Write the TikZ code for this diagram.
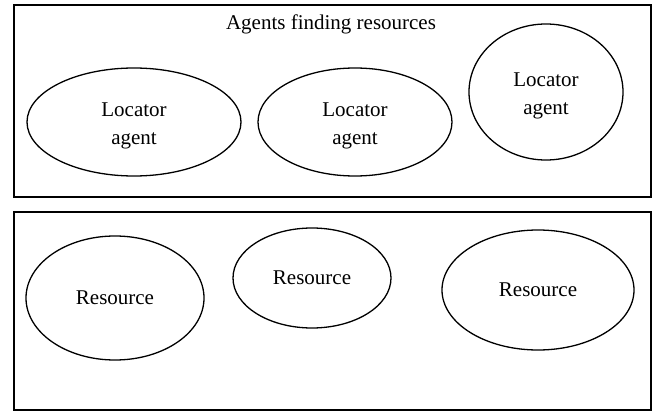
\documentclass[tikz,border=0pt]{standalone}
\usepackage{fontspec}
\setmainfont{Liberation Serif}
\usetikzlibrary{shapes.geometric}
\begin{document}
\begin{tikzpicture}[x=1pt,y=-1pt,
  frame/.style={draw=black,line width=2.8pt,inner sep=0pt},
  blob/.style={draw=black,line width=1.3pt,ellipse,inner sep=0pt,align=center,
    font=\fontsize{21}{28}\selectfont},
  inner/.style={label={[align=center,font=\fontsize{21}{28}\selectfont,inner sep=0pt,yshift=-4pt]center:#1}},
  titletext/.style={font=\fontsize{21}{26}\selectfont,inner sep=0pt}]
\useasboundingbox (0,0) rectangle (654,412);
\node[frame,minimum width=637pt,minimum height=192pt] (top) at (332.5,101) {};
\node[frame,minimum width=637pt,minimum height=198pt] (bottom) at (332.5,311) {};
\node[titletext] (title) at (331,24) {Agents finding resources};
\node[blob,minimum width=214pt,minimum height=108pt,inner={Locator\\agent}] (la1) at (134,122) {};
\node[blob,minimum width=194pt,minimum height=108pt,inner={Locator\\agent}] (la2) at (355,122) {};
\node[blob,minimum width=154pt,minimum height=136pt,inner={Locator\\agent}] (la3) at (546,92) {};
\node[blob,minimum width=178pt,minimum height=124pt] (r1) at (115,298) {Resource};
\node[blob,minimum width=158pt,minimum height=100pt] (r2) at (312,278) {Resource};
\node[blob,minimum width=192pt,minimum height=120pt] (r3) at (538,290) {Resource};
\end{tikzpicture}
\end{document}
